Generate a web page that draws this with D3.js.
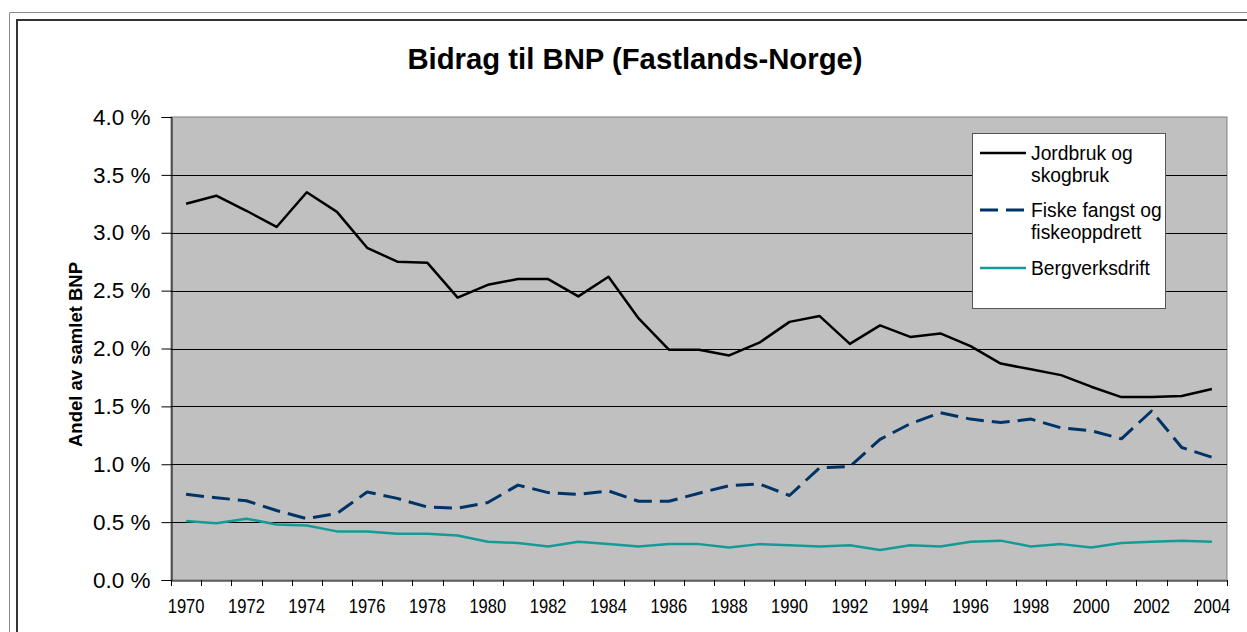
<!DOCTYPE html>
<meta charset="utf-8">
<style>
  body {
    margin: 0;
    background: #fff;
    font-family: "Liberation Sans", Arial, sans-serif;
  }
  svg { display: block; }
</style>
<body>
  <script src="https://d3js.org/d3.v7.min.js"></script>
  <div id="chart"></div>
  <script>
    const years = [1970, 1971, 1972, 1973, 1974, 1975, 1976, 1977, 1978, 1979,
                   1980, 1981, 1982, 1983, 1984, 1985, 1986, 1987, 1988, 1989,
                   1990, 1991, 1992, 1993, 1994, 1995, 1996, 1997, 1998, 1999,
                   2000, 2001, 2002, 2003, 2004];
    const yearLabels = [1970, 1972, 1974, 1976, 1978, 1980, 1982, 1984, 1986,
                        1988, 1990, 1992, 1994, 1996, 1998, 2000, 2002, 2004];
    const yTicks = [0, 0.5, 1.0, 1.5, 2.0, 2.5, 3.0, 3.5, 4.0];

    // andel av BNP, prosent
    const jordbruk = [3.25, 3.32, 3.19, 3.05, 3.35, 3.18, 2.87, 2.75, 2.74, 2.44,
                      2.55, 2.60, 2.60, 2.45, 2.62, 2.26, 1.99, 1.99, 1.94, 2.05,
                      2.23, 2.28, 2.04, 2.20, 2.10, 2.13, 2.02, 1.87, 1.82, 1.77,
                      1.67, 1.58, 1.58, 1.59, 1.65];
    const fiske = [0.74, 0.71, 0.685, 0.60, 0.53, 0.575, 0.76, 0.705, 0.63, 0.62,
                   0.67, 0.82, 0.755, 0.74, 0.77, 0.68, 0.68, 0.75, 0.815, 0.83,
                   0.73, 0.97, 0.98, 1.215, 1.35, 1.445, 1.39, 1.36, 1.39, 1.315,
                   1.29, 1.22, 1.46, 1.145, 1.06];
    const berg = [0.51, 0.49, 0.53, 0.48, 0.47, 0.42, 0.42, 0.40, 0.40, 0.385,
                  0.33, 0.32, 0.29, 0.33, 0.31, 0.29, 0.31, 0.31, 0.28, 0.31,
                  0.30, 0.29, 0.30, 0.26, 0.30, 0.29, 0.33, 0.34, 0.29, 0.31,
                  0.28, 0.32, 0.33, 0.34, 0.33];

    const series = [
      { name: ["Jordbruk og", "skogbruk"], values: jordbruk, color: "#000", width: 2.5, dash: null },
      { name: ["Fiske fangst og", "fiskeoppdrett"], values: fiske, color: "#003366", width: 3, dash: "18,8" },
      { name: ["Bergverksdrift"], values: berg, color: "#159b95", width: 2.5, dash: null }
    ];

    const width = 1247, height = 632;
    const plot = { left: 171, right: 1227, top: 117, bottom: 580 };
    const font = "Liberation Sans, Arial, sans-serif";

    const svg = d3.select("#chart").append("svg")
      .attr("width", width)
      .attr("height", height);

    // chart frame (cut off on right and bottom)
    svg.append("path")
      .attr("d", `M9.5,${height} V12.5 H${width}`)
      .attr("fill", "none").attr("stroke", "#8a8a8a");
    svg.append("path")
      .attr("d", `M17,${height} V20 H${width}`)
      .attr("fill", "none").attr("stroke", "#333").attr("stroke-width", 2);

    const x = d3.scaleBand()
      .domain(years)
      .range([plot.left, plot.right]);
    const cx = d => x(d) + x.bandwidth() / 2;

    const y = d3.scaleLinear()
      .domain([0, 4])
      .range([plot.bottom, plot.top]);

    // plot background
    svg.append("rect")
      .attr("x", plot.left).attr("y", plot.top)
      .attr("width", plot.right - plot.left)
      .attr("height", plot.bottom - plot.top)
      .attr("fill", "#c0c0c0")
      .attr("stroke", "#808080");

    // gridlines
    svg.append("g")
      .selectAll("line")
      .data(yTicks.filter(d => d > 0 && d < 4))
      .join("line")
      .attr("x1", plot.left).attr("x2", plot.right)
      .attr("y1", d => Math.round(y(d)) + 0.5)
      .attr("y2", d => Math.round(y(d)) + 0.5)
      .attr("stroke", "#000");

    // y axis
    const yAxis = svg.append("g")
      .attr("transform", `translate(${plot.left + 0.5},0)`)
      .call(d3.axisLeft(y)
        .tickValues(yTicks)
        .tickSize(10)
        .tickPadding(11)
        .tickFormat(d => d.toFixed(1) + " %"));
    yAxis.attr("font-size", 22.5).attr("font-family", font);
    yAxis.select(".domain").attr("stroke", "#000");
    yAxis.selectAll(".tick line").attr("stroke", "#000");
    yAxis.selectAll(".tick text").attr("fill", "#000");

    // x axis: labels at band centers, ticks at band edges
    const xAxis = svg.append("g")
      .attr("transform", `translate(0,${plot.bottom + 0.5})`)
      .call(d3.axisBottom(x)
        .tickValues(yearLabels)
        .tickSize(0)
        .tickPadding(19));
    xAxis.attr("font-size", 19.5).attr("font-family", font);
    xAxis.select(".domain").attr("stroke", "#000");
    xAxis.selectAll(".tick text")
      .attr("fill", "#000")
      .attr("transform", "scale(0.85,1)");

    const edges = years.map(d => x(d)).concat([plot.right]);
    svg.append("g")
      .selectAll("line")
      .data(edges)
      .join("line")
      .attr("x1", d => Math.round(d) + 0.5).attr("x2", d => Math.round(d) + 0.5)
      .attr("y1", plot.bottom).attr("y2", plot.bottom + 6)
      .attr("stroke", "#000");

    // lines
    const line = d3.line()
      .x((d, i) => cx(years[i]))
      .y(d => y(d));

    svg.append("g")
      .selectAll("path")
      .data(series)
      .join("path")
      .attr("d", d => line(d.values))
      .attr("fill", "none")
      .attr("stroke", d => d.color)
      .attr("stroke-width", d => d.width)
      .attr("stroke-dasharray", d => d.dash)
      .attr("stroke-linejoin", "round");

    // title
    svg.append("text")
      .attr("x", 635).attr("y", 68.5)
      .attr("text-anchor", "middle")
      .style("font-size", "29.3px")
      .style("font-weight", "bold")
      .text("Bidrag til BNP (Fastlands-Norge)");

    // y axis title
    svg.append("text")
      .attr("transform", `translate(82,${(plot.top + plot.bottom) / 2 + 6}) rotate(-90)`)
      .attr("text-anchor", "middle")
      .style("font-size", "18.5px")
      .style("font-weight", "bold")
      .text("Andel av samlet BNP");

    // legend
    const legend = svg.append("g");
    legend.append("rect")
      .attr("x", 972.5).attr("y", 133.5)
      .attr("width", 193).attr("height", 175)
      .attr("fill", "#fff")
      .attr("stroke", "#555");

    const legendY = [153, 210, 268];
    const item = legend.selectAll("g.item")
      .data(series)
      .join("g")
      .attr("class", "item")
      .attr("transform", (d, i) => `translate(0,${legendY[i]})`);
    item.append("line")
      .attr("x1", 980).attr("x2", 1026)
      .attr("stroke", d => d.color)
      .attr("stroke-width", d => d.width)
      .attr("stroke-dasharray", d => d.dash);
    item.append("text")
      .attr("x", 1031)
      .attr("y", 6.5)
      .style("font-size", "19.3px")
      .selectAll("tspan")
      .data(d => d.name)
      .join("tspan")
      .attr("x", 1031)
      .attr("dy", (d, i) => i === 0 ? 0 : 22.5)
      .text(d => d);
  </script>
</body>
